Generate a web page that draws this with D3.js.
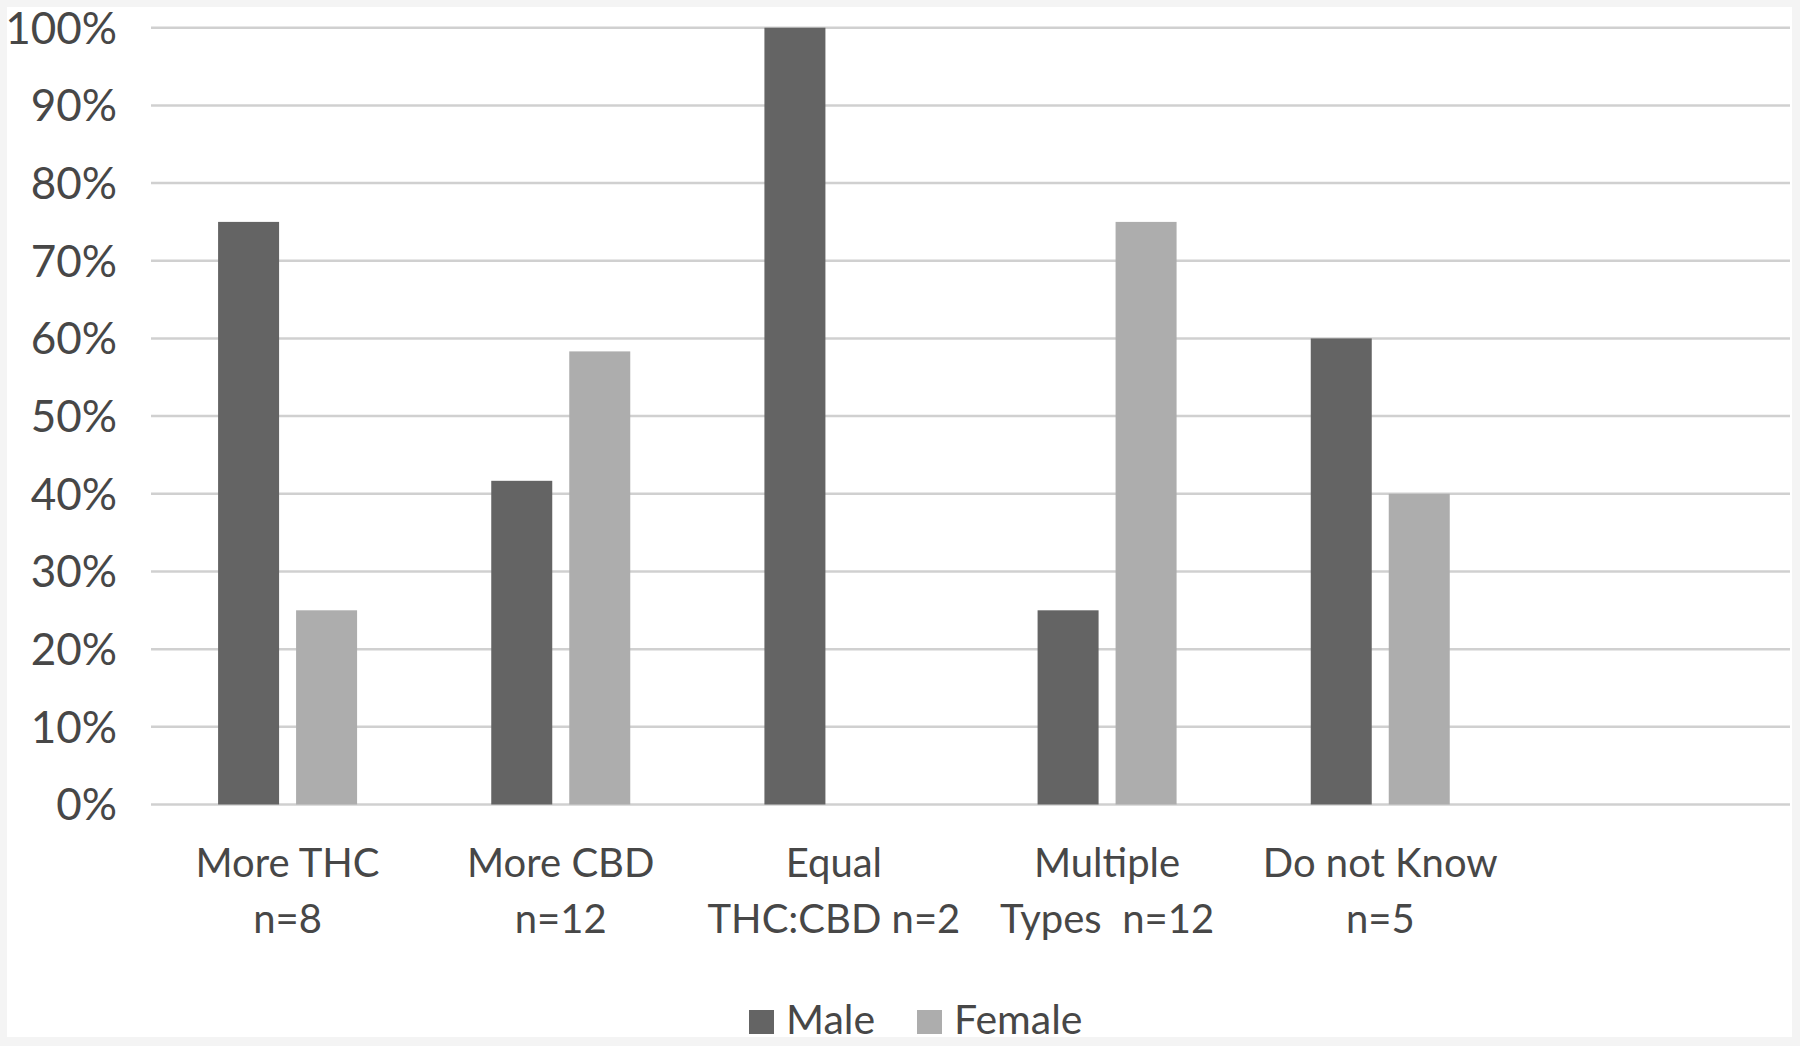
<!DOCTYPE html>
<html>
<head>
<meta charset="utf-8">
<script src="https://cdn.jsdelivr.net/npm/d3@7"></script>
<style>
  html, body { margin: 0; padding: 0; background: #f4f4f4; }
  svg { display: block; }
  text { font-family: Lato, "Open Sans", sans-serif; fill: #474747; white-space: pre; }
</style>
</head>
<body>
<svg id="chart" width="1800" height="1046"></svg>
<script>
// ---- data ----
const categoryLine1 = ["More THC", "More CBD", "Equal", "Multiple", "Do not Know", ""];
const categoryLine2 = ["n=8", "n=12", "THC:CBD n=2", "Types  n=12", "n=5", ""];
const maleValues   = [75, 41.67, 100, 25, 60, null];
const femaleValues = [25, 58.33, 0, 75, 40, null];
const seriesNames  = ["Male", "Female"];
const yTicks = [0, 10, 20, 30, 40, 50, 60, 70, 80, 90, 100];

// ---- layout ----
const plotLeft = 151, plotRight = 1790, plotTop = 27.7, plotBottom = 804.5;
const colors = { Male: "#646464", Female: "#adadad" };

const svg = d3.select("#chart");
svg.append("rect").attr("x", 7).attr("y", 7).attr("width", 1785).attr("height", 1030).attr("fill", "#ffffff");

const x = d3.scaleBand().domain(d3.range(categoryLine1.length)).range([plotLeft, plotRight]).padding(0);
const y = d3.scaleLinear().domain([0, 100]).range([plotBottom, plotTop]);

// gridlines
svg.append("g").selectAll("line").data(yTicks).join("line")
  .attr("x1", plotLeft).attr("x2", plotRight)
  .attr("y1", d => y(d)).attr("y2", d => y(d))
  .attr("stroke", "#d0d0d0").attr("stroke-width", 2.5);

// y axis labels
const yAxis = d3.axisLeft(y).tickValues(yTicks).tickFormat(d => d + "%").tickSize(0).tickPadding(0);
const yg = svg.append("g").attr("transform", `translate(117,0)`).call(yAxis);
yg.select(".domain").remove();
yg.selectAll("text").attr("font-size", 44).attr("dy", "0.35em").style("font-family", "Lato, 'Open Sans', sans-serif").style("fill", "#474747");

// bars
const barW = 61, gap = 17;
const rows = categoryLine1.map((c, i) => ({ i, Male: maleValues[i], Female: femaleValues[i] }));
const g = svg.append("g");
seriesNames.forEach((s, si) => {
  g.selectAll("rect." + s).data(rows.filter(r => r[s] !== null && r[s] > 0)).join("rect")
    .attr("class", s)
    .attr("x", r => x(r.i) + x.bandwidth() / 2 + (si === 0 ? -gap / 2 - barW : gap / 2))
    .attr("width", barW)
    .attr("y", r => y(r[s]))
    .attr("height", r => y(0) - y(r[s]))
    .attr("fill", colors[s]);
});

// category labels
const xg = svg.append("g");
categoryLine1.forEach((c, i) => {
  const cx = x(i) + x.bandwidth() / 2;
  const t = xg.append("text").attr("text-anchor", "middle").attr("font-size", 40);
  t.append("tspan").attr("x", cx).attr("y", 877).text(c);
  t.append("tspan").attr("x", cx).attr("y", 933).text(categoryLine2[i]);
});

// legend
const legend = svg.append("g");
const legendX = [749, 917];
seriesNames.forEach((s, i) => {
  legend.append("rect").attr("x", legendX[i]).attr("y", 1010).attr("width", 25).attr("height", 24).attr("fill", colors[s]);
  legend.append("text").attr("x", legendX[i] + 37).attr("y", 1034).attr("font-size", 41).text(s);
});
</script>
</body>
</html>
